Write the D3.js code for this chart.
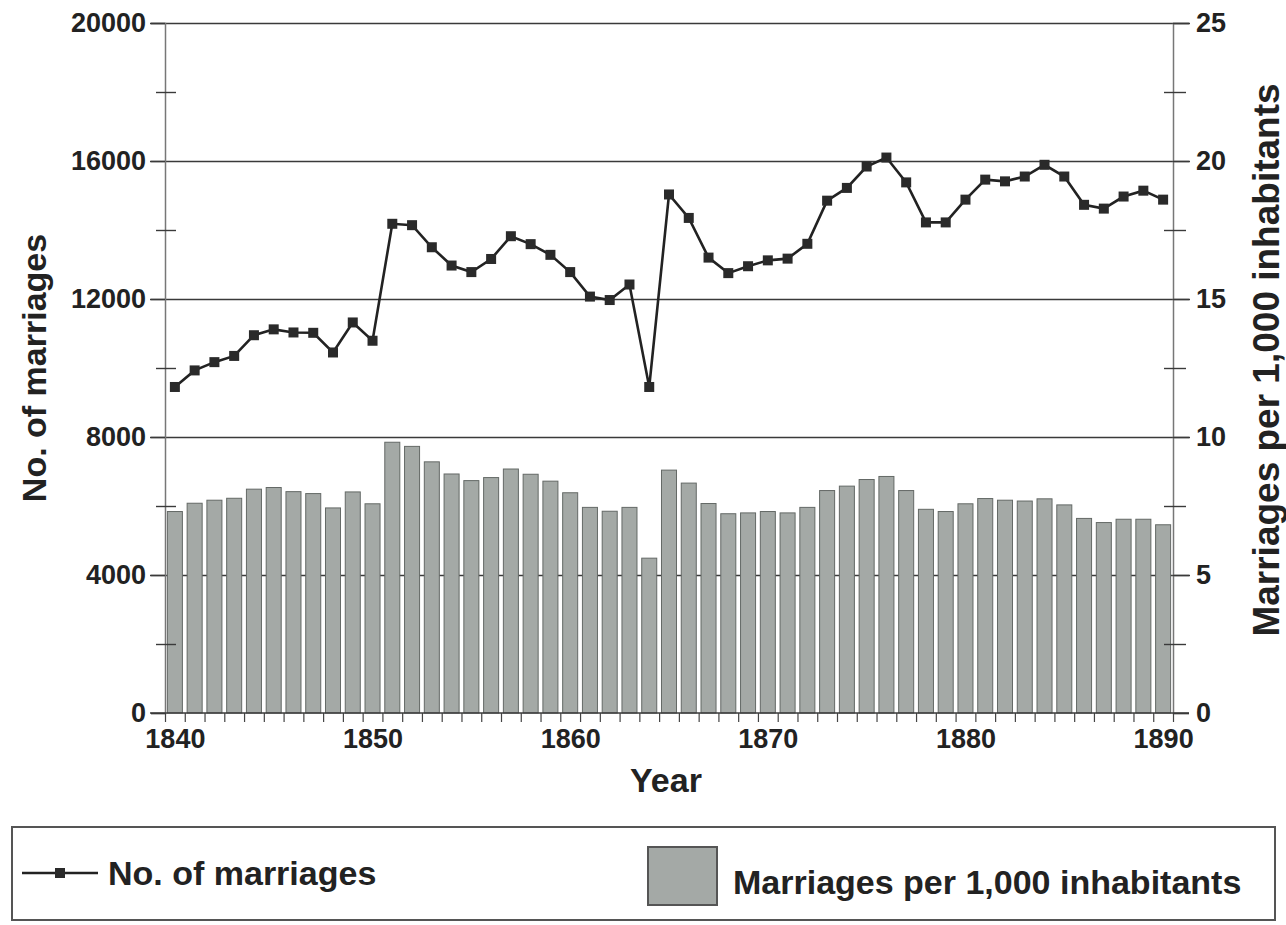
<!DOCTYPE html>
<html>
<head>
<meta charset="utf-8">
<script src="https://cdn.jsdelivr.net/npm/d3@7"></script>
<style>
  html, body { margin: 0; padding: 0; background: #ffffff; }
  svg { display: block; }
  text { font-family: "Liberation Sans", Arial, sans-serif; font-weight: bold; fill: #222; }
</style>
</head>
<body>
<svg id="chart" width="1286" height="925"></svg>
<script>
// ---- data ----
const years = d3.range(1840, 1891);
const marriages = [9450, 9930, 10170, 10350, 10950, 11120, 11030, 11020, 10450, 11320,
  10790, 14180, 14140, 13500, 12970, 12780, 13160, 13820, 13590, 13280,
  12780, 12070, 11970, 12420, 9450, 15030, 14350, 13200, 12750, 12950,
  13120, 13170, 13600, 14850, 15220, 15840, 16100, 15380, 14220, 14220,
  14880, 15460, 15410, 15550, 15890, 15550, 14730, 14620, 14970, 15140, 14880];
const ratePer1000 = [7.30, 7.60, 7.71, 7.78, 8.11, 8.17, 8.02, 7.95, 7.43, 8.01,
  7.58, 9.81, 9.66, 9.10, 8.66, 8.42, 8.53, 8.84, 8.65, 8.40,
  7.98, 7.45, 7.31, 7.45, 5.61, 8.80, 8.33, 7.59, 7.22, 7.25,
  7.30, 7.25, 7.45, 8.06, 8.22, 8.46, 8.57, 8.06, 7.38, 7.30,
  7.58, 7.77, 7.71, 7.68, 7.76, 7.54, 7.05, 6.90, 7.02, 7.02, 6.82];
const leftMajor = [0, 4000, 8000, 12000, 16000, 20000];
const leftMinor = [2000, 6000, 10000, 14000, 18000];
const rightMajor = [0, 5, 10, 15, 20, 25];
const rightMinor = [2.5, 7.5, 12.5, 17.5, 22.5];
const yearLabels = [1840, 1850, 1860, 1870, 1880, 1890];
const leftTitle = "No. of marriages";
const rightTitle = "Marriages per 1,000 inhabitants";
const xTitle = "Year";
const legendLine = "No. of marriages";
const legendBar = "Marriages per 1,000 inhabitants";

// ---- layout ----
const L = 165, R = 1173, T = 23, B = 713;
const svg = d3.select("#chart");

const x = d3.scaleBand().domain(years).range([L, R]).paddingInner(0.24).paddingOuter(0.12);
const xLin = d3.scaleLinear().domain([1839.5, 1890.5]).range([L, R]);
const yL = d3.scaleLinear().domain([0, 20000]).range([B, T]);
const yR = d3.scaleLinear().domain([0, 25]).range([B, T]);

const gridColor = "#3a3a3a";
const axisColor = "#777";
const tickFont = "27px";

// gridlines
const grid = svg.append("g").attr("transform", `translate(${L},0)`)
  .call(d3.axisLeft(yL).tickValues(leftMajor.filter(v => v > 0)).tickSize(0).tickFormat(""));
grid.select(".domain").remove();
grid.selectAll(".tick line").attr("x1", -15).attr("x2", R - L + 17)
  .attr("stroke", gridColor).attr("stroke-width", 1.4);

// bars
svg.append("g").selectAll("rect").data(years).join("rect")
  .attr("x", d => x(d))
  .attr("width", x.bandwidth())
  .attr("y", (d, i) => yR(ratePer1000[i]))
  .attr("height", (d, i) => yR(0) - yR(ratePer1000[i]))
  .attr("fill", "#a4a9a6")
  .attr("stroke", "#646966")
  .attr("stroke-width", 1);

// left axis
const gl = svg.append("g").attr("transform", `translate(${L},0)`)
  .call(d3.axisLeft(yL).tickValues(leftMajor).tickSize(14).tickPadding(5).tickFormat(d3.format("d")));
gl.select(".domain").attr("stroke", axisColor).attr("stroke-width", 1.5);
gl.selectAll(".tick line").attr("stroke", gridColor).attr("stroke-width", 1.4);
gl.selectAll(".tick text").style("font-size", tickFont).attr("fill", "#222");
const glm = svg.append("g").attr("transform", `translate(${L},0)`)
  .call(d3.axisLeft(yL).tickValues(leftMinor).tickSize(0).tickFormat(""));
glm.select(".domain").remove();
glm.selectAll(".tick line").attr("x1", -9).attr("x2", 11).attr("stroke", gridColor).attr("stroke-width", 1.4);

// right axis
const gr = svg.append("g").attr("transform", `translate(${R},0)`)
  .call(d3.axisRight(yR).tickValues(rightMajor).tickSize(16).tickPadding(7).tickFormat(d3.format("d")));
gr.select(".domain").attr("stroke", axisColor).attr("stroke-width", 1.5);
gr.selectAll(".tick line").attr("stroke", gridColor).attr("stroke-width", 1.4);
gr.selectAll(".tick text").style("font-size", tickFont).attr("fill", "#222");
const grm = svg.append("g").attr("transform", `translate(${R},0)`)
  .call(d3.axisRight(yR).tickValues(rightMinor).tickSize(0).tickFormat(""));
grm.select(".domain").remove();
grm.selectAll(".tick line").attr("x1", -9).attr("x2", 13).attr("stroke", gridColor).attr("stroke-width", 1.4);

// x axis
const gx = svg.append("g").attr("transform", `translate(0,${B})`)
  .call(d3.axisBottom(xLin).tickValues(d3.range(1839.5, 1891, 1)).tickSize(9).tickFormat(""));
gx.select(".domain").remove();
gx.selectAll(".tick line").attr("stroke", "#444").attr("stroke-width", 1.2);
svg.append("line").attr("x1", L - 15).attr("x2", R + 16).attr("y1", B).attr("y2", B)
  .attr("stroke", gridColor).attr("stroke-width", 1.5);
const gxl = svg.append("g").attr("transform", `translate(0,${B})`)
  .call(d3.axisBottom(xLin).tickValues(yearLabels).tickSize(0).tickPadding(16).tickFormat(d3.format("d")));
gxl.select(".domain").remove();
gxl.selectAll(".tick text").style("font-size", tickFont).attr("fill", "#222");

// line
const line = d3.line()
  .x((d, i) => x(years[i]) + x.bandwidth() / 2)
  .y(d => yL(d));
svg.append("path").datum(marriages)
  .attr("d", line).attr("fill", "none").attr("stroke", "#222").attr("stroke-width", 2.6);
svg.append("g").selectAll("rect").data(marriages).join("rect")
  .attr("x", (d, i) => x(years[i]) + x.bandwidth() / 2 - 5)
  .attr("y", d => yL(d) - 5)
  .attr("width", 10).attr("height", 10)
  .attr("fill", "#2a2a2a");

// titles
svg.append("text").attr("transform", `translate(46,${(T + B) / 2}) rotate(-90)`)
  .attr("text-anchor", "middle").style("font-size", "34px").text(leftTitle);
svg.append("text").attr("transform", `translate(1279,${(T + B) / 2 - 8}) rotate(-90)`)
  .attr("text-anchor", "middle").style("font-size", "37px").text(rightTitle);
svg.append("text").attr("x", 666).attr("y", 792)
  .attr("text-anchor", "middle").style("font-size", "34px").text(xTitle);

// legend
const lg = svg.append("g");
lg.append("rect").attr("x", 12).attr("y", 827).attr("width", 1263).attr("height", 93)
  .attr("fill", "none").attr("stroke", "#555").attr("stroke-width", 2);
lg.append("line").attr("x1", 22).attr("x2", 98).attr("y1", 873).attr("y2", 873)
  .attr("stroke", "#222").attr("stroke-width", 2.6);
lg.append("rect").attr("x", 55).attr("y", 868).attr("width", 10).attr("height", 10).attr("fill", "#2a2a2a");
lg.append("text").attr("x", 108).attr("y", 885).style("font-size", "34px").text(legendLine);
lg.append("rect").attr("x", 648).attr("y", 847).attr("width", 69).attr("height", 58)
  .attr("fill", "#a4a9a6").attr("stroke", "#555").attr("stroke-width", 2);
lg.append("text").attr("x", 733).attr("y", 894).style("font-size", "34px").text(legendBar);
</script>
</body>
</html>
